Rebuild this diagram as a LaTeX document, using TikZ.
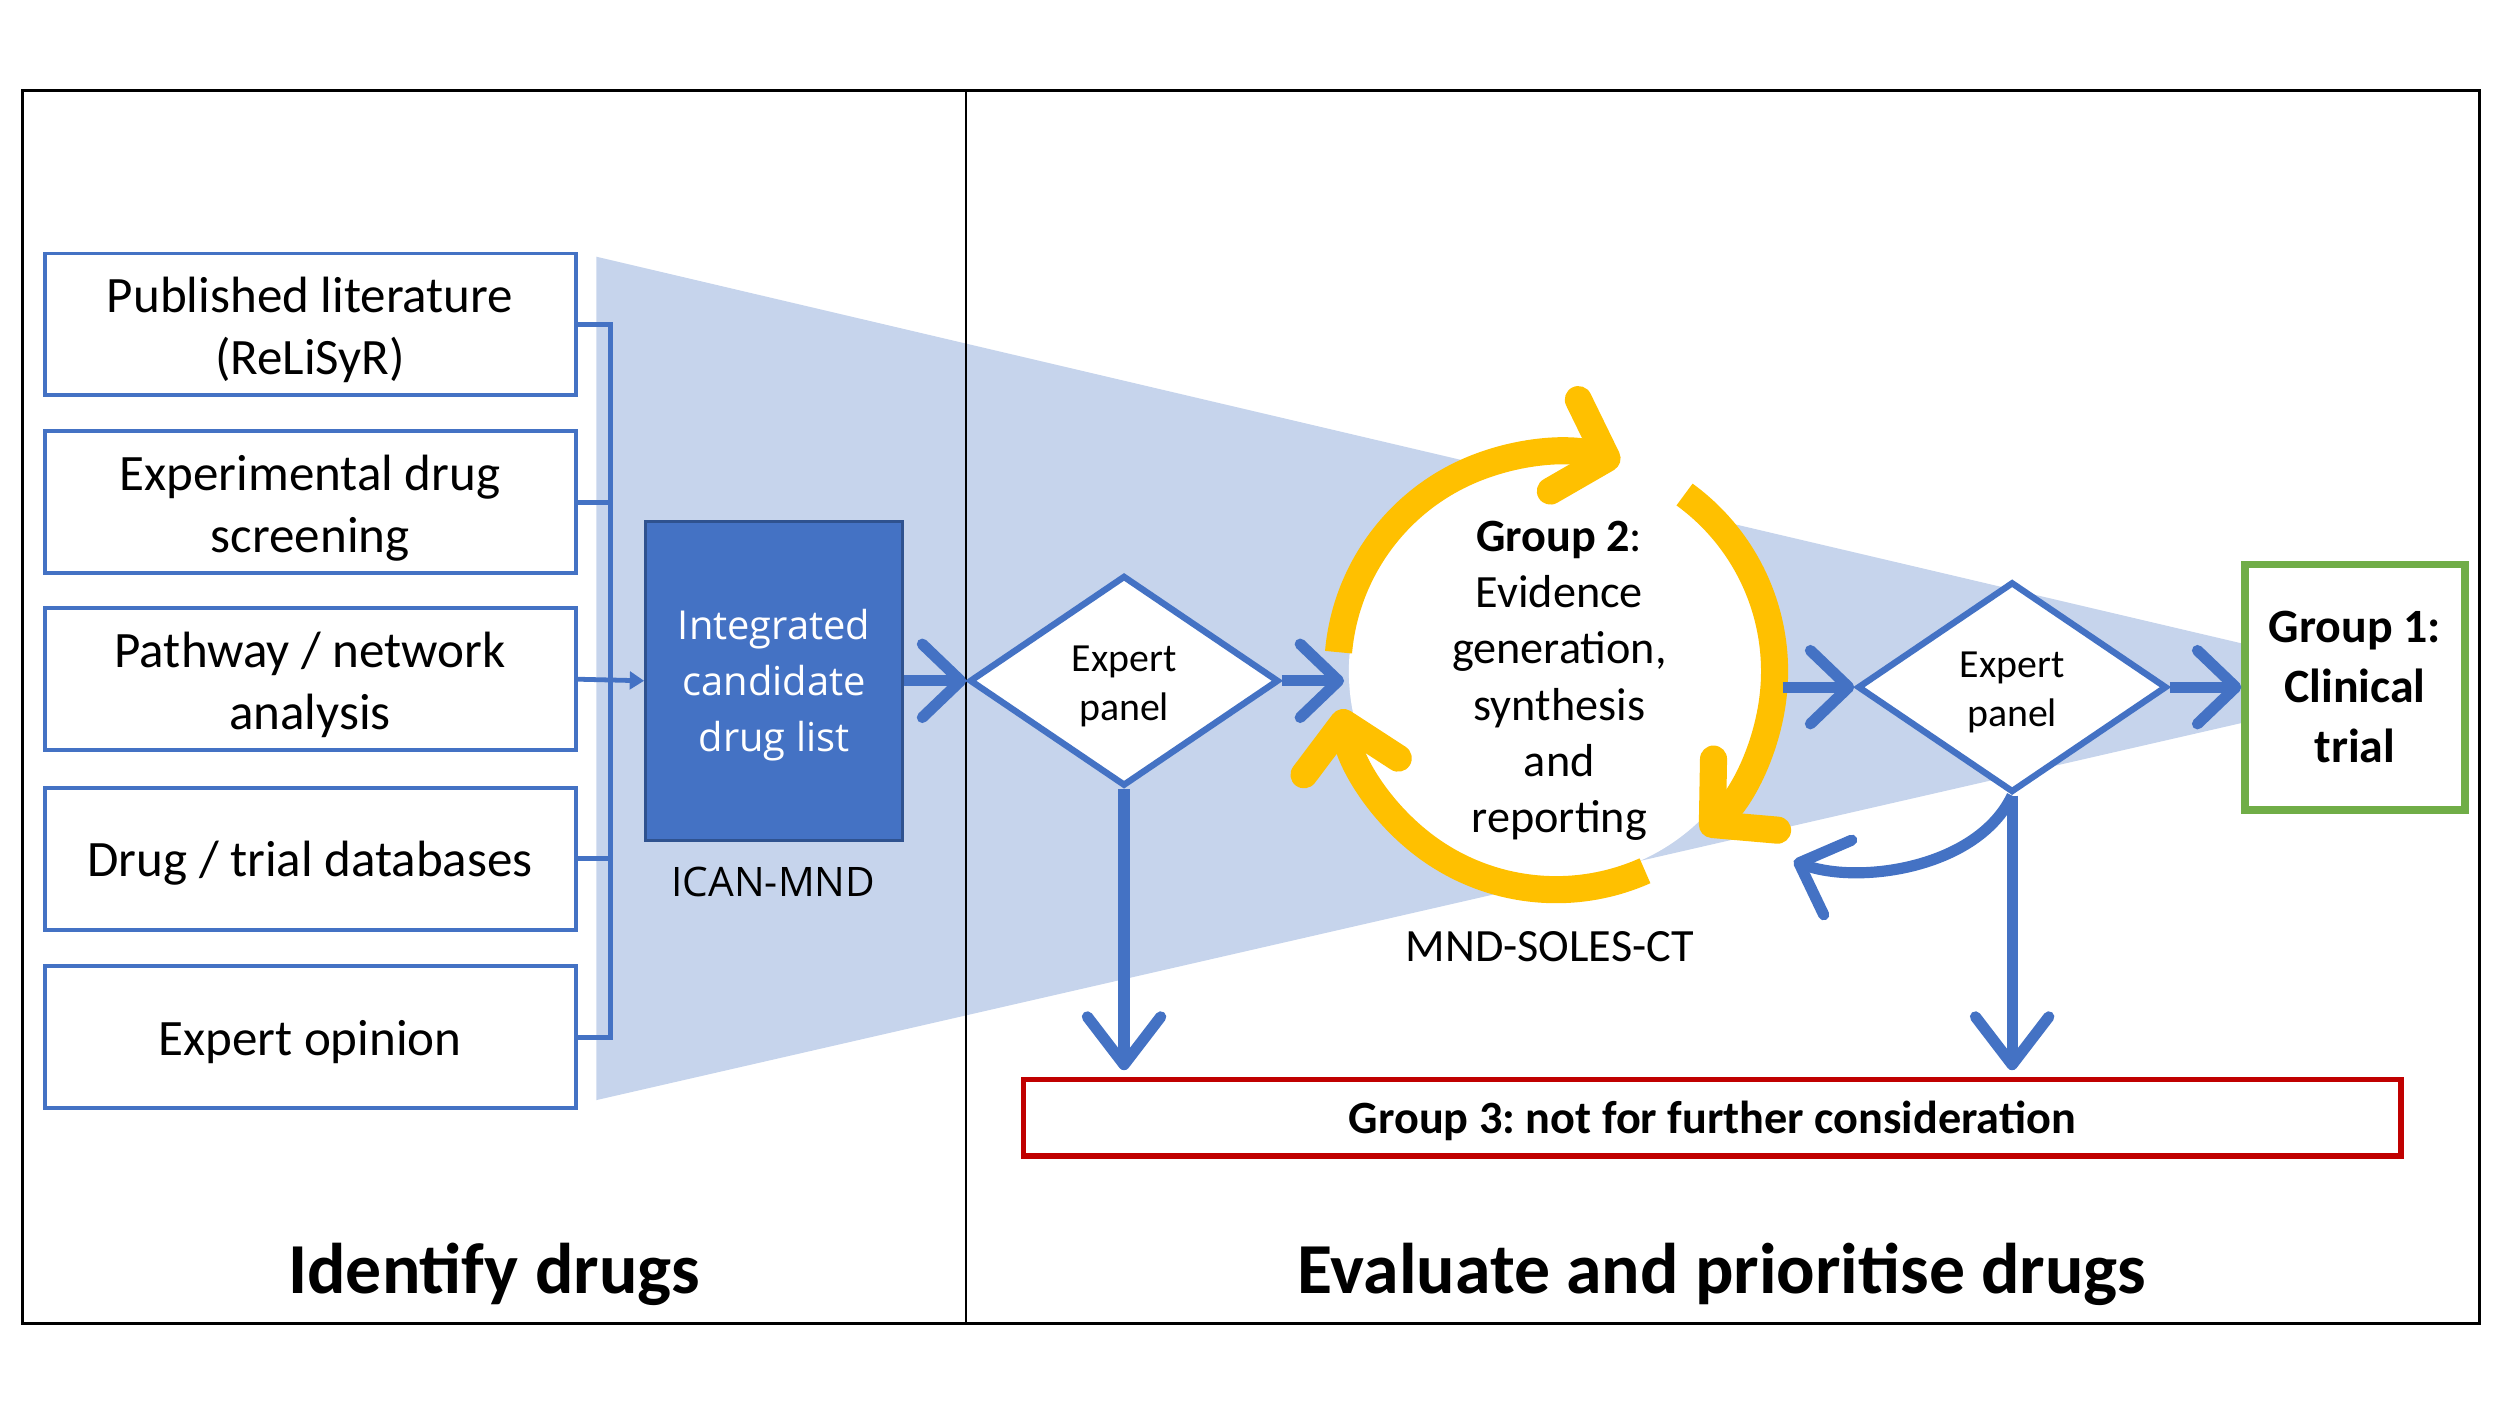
\documentclass[tikz,border=0pt]{standalone}
\usepackage{fontspec}
\setmainfont{Carlito}
\newfontfamily\osans{Open Sans}
\usetikzlibrary{arrows.meta,shapes.geometric,calc}
\definecolor{mblue}{HTML}{4472C4}
\definecolor{dblue}{HTML}{2F528F}
\definecolor{myel}{HTML}{FFC000}
\definecolor{mgreen}{HTML}{70AD47}
\definecolor{mred}{HTML}{C00000}
\definecolor{funnel}{RGB}{198,212,236}
\frenchspacing
\newcommand\mytopstrut{\rule{0pt}{1.05em}}
\begin{document}
\begin{tikzpicture}[x=1pt,y=-1pt,
  tshift/.style={execute at begin node={\rule{0pt}{1em}}, execute at end node={\rule[-0.3em]{0pt}{0.3em}}},
  srcbox/.style={tshift, draw=mblue, line width=2.5pt, fill=white, minimum width=333pt, minimum height=89pt, inner sep=0pt, align=center, font=\fontsize{32}{39}\selectfont},
  listbox/.style={tshift, draw=dblue, line width=2pt, fill=mblue, text=white, minimum width=161pt, minimum height=200pt, inner sep=0pt, align=center, font=\osans\fontsize{25}{35}\selectfont},
  panel/.style={tshift, diamond, draw=mblue, line width=4pt, fill=white, minimum width=194pt, minimum height=132pt, inner sep=0pt, align=center, font=\fontsize{25}{31}\selectfont},
  lbl/.style={inner sep=0pt, align=center, font=\fontsize{29}{35.2}\selectfont},
  biglbl/.style={inner sep=0pt, font=\bfseries\fontsize{45}{54}\selectfont},
  bus/.style={draw=mblue, line width=3pt},
  bigarrow/.style={draw=mblue, line width=7pt, -{Straight Barb[length=24pt,width=46pt,round]}},
  downarrow/.style={draw=mblue, line width=7pt, -{Straight Barb[length=30pt,width=46pt,round]}},
  curvearrow/.style={draw=mblue, line width=7pt, -{Straight Barb[length=26pt,width=50pt,round]}},
  yarc/.style={draw=myel, line width=17pt, -{Straight Barb[length=28pt,width=60pt,round]}}
]
\useasboundingbox (0,0) rectangle (1568,882);
% funnel
\fill[funnel] (374,161) -- (1408,404) -- (1408,453) -- (374,690) -- cycle;
% frame
\draw[line width=2pt] (14,57) rectangle (1555,830);
\draw[line width=1.5pt] (606,57) -- (606,830);
% source boxes
\node[srcbox] (s1) at (194.5,203.5) {\mytopstrut Published literature\\(ReLiSyR)};
\node[srcbox] (s2) at (194.5,315) {\mytopstrut Experimental drug\\screening};
\node[srcbox] (s3) at (194.5,426) {\mytopstrut Pathway / network\\analysis};
\node[srcbox] (s4) at (194.5,538.5) {Drug / trial databases};
\node[srcbox] (s5) at (194.5,650.5) {Expert opinion};
% integrated list
\node[listbox] (icl) at (485.5,427) {\mytopstrut Integrated\\candidate\\drug list};
\node[inner sep=0pt, font=\osans\fontsize{25.5}{30}\selectfont] (ican) at (485,553) {ICAN-MND};
% bracket
\coordinate (bt) at (383,203.5);
\coordinate (bb) at (383,650.5);
\draw[bus] (s1.east) -- (bt) -- (bb) -- (s5.east);
\draw[bus] (s2.east) -- (s2.east -| bt);
\draw[bus] (s4.east) -- (s4.east -| bt);
\draw[bus, -{Triangle[length=9pt,width=11pt]}] (s3.east) -- (icl.west);
% expert panel 1
\node[panel] (ep1) at (705,427) {\mytopstrut Expert\\panel};
% group 2 cycle
\coordinate (g2c) at (976,421);
\fill[white] (g2c) circle (130);
\draw[yarc] ($(g2c)+(-175:137)$) arc[start angle=-175, end angle=-73, radius=137];
\draw[yarc] ($(g2c)+(-54:137)$) arc[start angle=-54, end angle=48, radius=137];
\draw[yarc] ($(g2c)+(66:137)$) arc[start angle=66, end angle=170, radius=137];
\node[lbl] (g2) at (978,427) {\textbf{Group 2}:\\Evidence\\generation,\\synthesis\\and\\reporting};
\node[lbl] (mnd) at (972,594) {MND-SOLES-CT};
\coordinate (g2in) at (843,427);
\coordinate (g2out) at (1118,431);
% expert panel 2
\node[panel] (ep2) at (1262,431) {\mytopstrut Expert\\panel};
% outcome boxes
\node[draw=mgreen, line width=4.5pt, fill=white, minimum width=138pt, minimum height=154pt, inner sep=0pt, align=center, font=\bfseries\fontsize{30}{37.5}\selectfont] (g1) at (1477,431) {Group 1:\\Clinical\\trial};
\node[tshift, draw=mred, line width=3.5pt, fill=white, minimum width=864pt, minimum height=48pt, inner sep=0pt, font=\bfseries\fontsize{29}{31}\selectfont] (g3) at (1074,701) {Group 3: not for further consideration};
\coordinate (back) at (1125,540);
% connectors
\draw[bigarrow] (icl.east) -- (ep1.west);
\draw[bigarrow] (ep1.east) -- (g2in);
\draw[downarrow] (ep1.south) -- ($(ep1.south |- g3.north)+(0,-4)$);
\draw[bigarrow] (g2out) -- (ep2.west);
\draw[bigarrow] (ep2.east) -- (g1.west);
\draw[downarrow] (ep2.south) -- ($(ep2.south |- g3.north)+(0,-4)$);
\draw[curvearrow] (ep2.south) .. controls (1240,545) and (1165,555) .. (back);
% section titles
\node[biglbl] (t1) at (310,799) {Identify drugs};
\node[biglbl] (t2) at (1080,799) {Evaluate and prioritise drugs};
\end{tikzpicture}
\end{document}
